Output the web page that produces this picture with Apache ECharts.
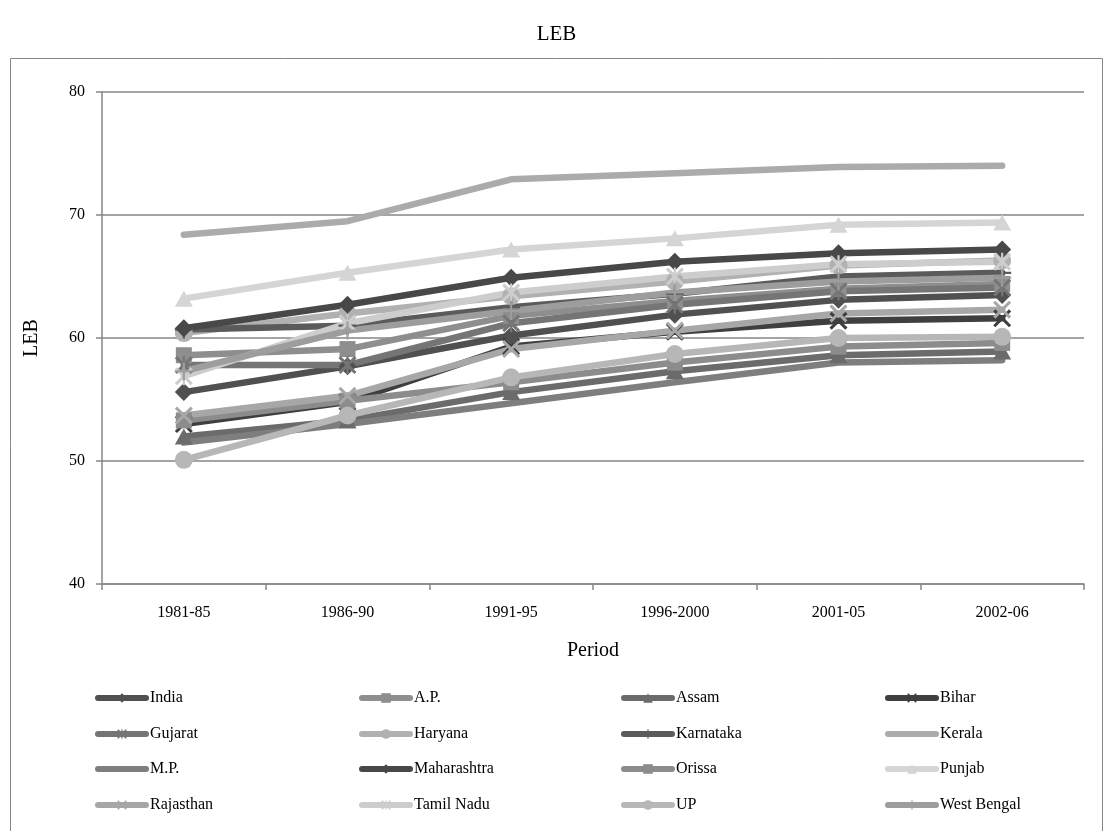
<!DOCTYPE html>
<html>
<head>
<meta charset="utf-8">
<title>LEB</title>
<script src="https://cdn.jsdelivr.net/npm/echarts@6/dist/echarts.min.js"></script>
<style>
  html, body { margin: 0; padding: 0; background: #fff; }
  #chart { width: 1113px; height: 831px; }
</style>
</head>
<body>
<div id="chart"></div>
<script>
// Life expectancy at birth (years), by state and period
const periods = ['1981-85', '1986-90', '1991-95', '1996-2000', '2001-05', '2002-06'];
const yTicks = [40, 50, 60, 70, 80];

const india       = [55.6, 57.7, 60.2, 61.9, 63.1, 63.5];
const ap          = [58.6, 59.1, 61.8, 63.0, 64.0, 64.4];
const assam       = [52.0, 53.3, 55.6, 57.3, 58.6, 58.9];
const bihar       = [53.0, 54.8, 59.3, 60.5, 61.4, 61.6];
const gujarat     = [57.8, 57.8, 61.2, 62.7, 63.8, 64.1];
const haryana     = [60.4, 62.0, 63.4, 64.6, 65.9, 66.3];
const karnataka   = [60.7, 61.0, 62.5, 63.6, 65.0, 65.3];
const kerala      = [68.4, 69.5, 72.9, 73.4, 73.9, 74.0];
const mp          = [51.5, 53.0, 54.7, 56.4, 58.0, 58.2];
const maharashtra = [60.8, 62.7, 64.9, 66.2, 66.9, 67.2];
const orissa      = [53.3, 54.9, 56.4, 58.0, 59.3, 59.6];
const punjab      = [63.2, 65.3, 67.2, 68.1, 69.2, 69.4];
const rajasthan   = [53.7, 55.3, 59.1, 60.6, 62.0, 62.3];
const tamilNadu   = [56.9, 61.2, 63.7, 65.0, 66.0, 66.2];
const up          = [50.1, 53.7, 56.8, 58.7, 60.0, 60.1];
const westBengal  = [57.3, 60.6, 62.2, 63.7, 64.6, 64.9];

// Marker shapes drawn as filled outlines
const CROSS = 'path://M0,1.2 L1.2,0 L5,3.8 L8.8,0 L10,1.2 L6.2,5 L10,8.8 L8.8,10 L5,6.2 L1.2,10 L0,8.8 L3.8,5 Z';
const PLUS = 'path://M4.4,0 H5.6 V4.4 H10 V5.6 H5.6 V10 H4.4 V5.6 H0 V4.4 H4.4 Z';
const STAR = 'path://M0,1.2 L1.2,0 L5,3.8 L8.8,0 L10,1.2 L6.2,5 L10,8.8 L8.8,10 L5,6.2 L1.2,10 L0,8.8 L3.8,5 Z M4.4,0 H5.6 V10 H4.4 Z';

const seriesDefs = [
  { name: 'India',       data: india,       color: '#505050', symbol: 'diamond',  size: 18 },
  { name: 'A.P.',        data: ap,          color: '#8e8e8e', symbol: 'rect',     size: 16 },
  { name: 'Assam',       data: assam,       color: '#6b6b6b', symbol: 'triangle', size: [18, 16] },
  { name: 'Bihar',       data: bihar,       color: '#3f3f3f', symbol: CROSS,      size: 18 },
  { name: 'Gujarat',     data: gujarat,     color: '#757575', symbol: STAR,       size: 18 },
  { name: 'Haryana',     data: haryana,     color: '#b1b1b1', symbol: 'circle',   size: 18 },
  { name: 'Karnataka',   data: karnataka,   color: '#5b5b5b', symbol: PLUS,       size: 18 },
  { name: 'Kerala',      data: kerala,      color: '#ababab', symbol: 'none',     size: 0 },
  { name: 'M.P.',        data: mp,          color: '#7e7e7e', symbol: 'none',     size: 0 },
  { name: 'Maharashtra', data: maharashtra, color: '#484848', symbol: 'diamond',  size: 18 },
  { name: 'Orissa',      data: orissa,      color: '#8c8c8c', symbol: 'rect',     size: 16 },
  { name: 'Punjab',      data: punjab,      color: '#d5d5d5', symbol: 'triangle', size: [18, 16] },
  { name: 'Rajasthan',   data: rajasthan,   color: '#a7a7a7', symbol: CROSS,      size: 18 },
  { name: 'Tamil Nadu',  data: tamilNadu,   color: '#cdcdcd', symbol: STAR,       size: 18 },
  { name: 'UP',          data: up,          color: '#b7b7b7', symbol: 'circle',   size: 18 },
  { name: 'West Bengal', data: westBengal,  color: '#9d9d9d', symbol: PLUS,       size: 18 }
];

const FONT = '"Liberation Serif", "Times New Roman", serif';
const GRID_COLOR = '#868686';

// Legend: 4 columns x 4 rows, filled row by row
const legendCols = [95, 359, 621, 885];
const legendRows = [690, 726, 761, 797];
const legends = seriesDefs.map((s, i) => ({
  data: [s.name],
  left: legendCols[i % 4],
  top: legendRows[Math.floor(i / 4)],
  itemWidth: 48,
  itemHeight: 12,
  padding: 0,
  selectedMode: false,
  lineStyle: { width: 6, cap: 'round' },
  itemStyle: s.symbol === 'none' ? { opacity: 0 } : {},
  textStyle: { fontFamily: FONT, fontSize: 16, color: '#000', padding: [0, 0, 0, -1] }
}));

const chart = echarts.init(document.getElementById('chart'), null, { renderer: 'canvas' });
chart.setOption({
  backgroundColor: '#fff',
  animation: false,
  title: {
    text: 'LEB',
    left: 'center',
    top: 19,
    textStyle: { fontFamily: FONT, fontSize: 21, fontWeight: 'normal', color: '#000' }
  },
  graphic: [{
    type: 'rect',
    shape: { x: 10.5, y: 58.5, width: 1092, height: 800 },
    style: { fill: 'none', stroke: GRID_COLOR, lineWidth: 1 },
    silent: true,
    z: -1
  }],
  legend: legends,
  grid: { left: 102, right: 29, top: 92, bottom: 247, containLabel: false },
  xAxis: {
    type: 'category',
    data: periods,
    boundaryGap: true,
    name: 'Period',
    nameLocation: 'middle',
    nameGap: 57,
    nameTextStyle: { fontFamily: FONT, fontSize: 20, color: '#000' },
    axisLine: { show: true, lineStyle: { color: GRID_COLOR, width: 1.5 } },
    axisTick: { show: true, length: 6, lineStyle: { color: GRID_COLOR, width: 1.5 } },
    axisLabel: { fontFamily: FONT, fontSize: 16, color: '#000', margin: 21 },
    splitLine: { show: false }
  },
  yAxis: {
    type: 'value',
    min: yTicks[0],
    max: yTicks[yTicks.length - 1],
    interval: 10,
    name: 'LEB',
    nameLocation: 'middle',
    nameGap: 60,
    nameTextStyle: { fontFamily: FONT, fontSize: 20, color: '#000' },
    axisLine: { show: true, lineStyle: { color: GRID_COLOR, width: 1.5 } },
    axisTick: { show: true, inside: false, length: 6, lineStyle: { color: GRID_COLOR, width: 1.5 } },
    axisLabel: { fontFamily: FONT, fontSize: 16, color: '#000', margin: 17 },
    splitLine: { show: true, lineStyle: { color: GRID_COLOR, width: 1.5 } }
  },
  series: seriesDefs.map(s => ({
    name: s.name,
    type: 'line',
    data: s.data,
    symbol: s.symbol,
    symbolSize: s.size,
    showSymbol: s.symbol !== 'none',
    smooth: false,
    lineStyle: { color: s.color, width: 6.5, cap: 'round', join: 'round' },
    itemStyle: { color: s.color, borderWidth: 0 },
    emphasis: { disabled: true }
  }))
});
</script>
</body>
</html>
